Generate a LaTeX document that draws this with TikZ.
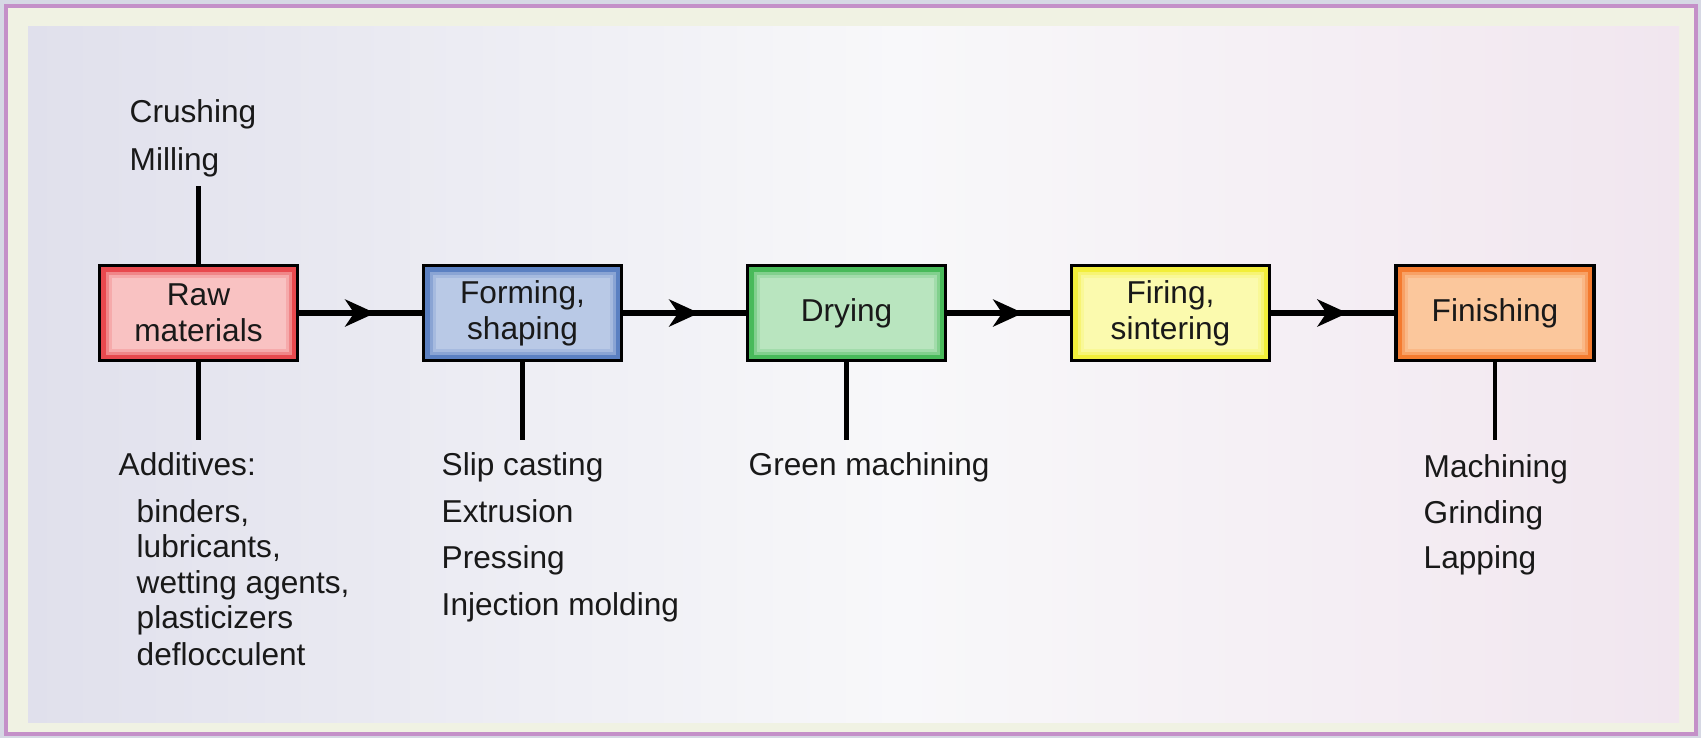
\documentclass[tikz,border=0pt]{standalone}
\usepackage{fontspec}
\setmainfont{Liberation Sans}
\usepackage{tikz}
\usetikzlibrary{positioning,arrows.meta,decorations.markings}
\usepackage{xcolor}
\definecolor{bgout}{HTML}{D6D8E4}
\definecolor{glowband}{HTML}{F0F2E3}
\definecolor{framepurple}{HTML}{C490C8}
\definecolor{bgleft}{HTML}{E0E0EC}
\definecolor{bgmid}{HTML}{F8F8FA}
\definecolor{bgright}{HTML}{F1E6EF}
\definecolor{rawout}{HTML}{E8494E}
\definecolor{rawlight}{HTML}{F9C2C2}
\definecolor{formout}{HTML}{5B80C2}
\definecolor{formlight}{HTML}{B9C9E6}
\definecolor{dryout}{HTML}{48BA5A}
\definecolor{drylight}{HTML}{B9E5BF}
\definecolor{fireout}{HTML}{F2EE3A}
\definecolor{firelight}{HTML}{FBFAAE}
\definecolor{finout}{HTML}{F47B2F}
\definecolor{finlight}{HTML}{FBC79C}

\begin{document}
\begin{tikzpicture}[
  stage/.style 2 args={rectangle, draw=black, line width=1.1pt, minimum width=1.98cm, minimum height=0.95cm,
    align=center, font=\fontsize{9}{10.2}\selectfont, text=black!90, fill=#1,
    path picture={
      \fill[#2!50!#1] ([shift={(0.06,0.06)}]path picture bounding box.south west) rectangle ([shift={(-0.06,-0.06)}]path picture bounding box.north east);
      \fill[#2!80!#1] ([shift={(0.09,0.09)}]path picture bounding box.south west) rectangle ([shift={(-0.09,-0.09)}]path picture bounding box.north east);
      \fill[#2] ([shift={(0.12,0.12)}]path picture bounding box.south west) rectangle ([shift={(-0.12,-0.12)}]path picture bounding box.north east);}},
  item/.style={anchor=base west, inner sep=0pt, font=\fontsize{9}{10.8}\selectfont, text=black!90},
  flow/.style={line width=1.5pt, postaction={decorate},
    decoration={markings, mark=at position 0.62 with {\arrow{Stealth[length=0.3cm, width=0.27cm, inset=0.09cm]}}}},
  tick/.style={line width=1.2pt}
]
% background and frame
\fill[bgout] (0,0) rectangle (17.01,-7.38);
\fill[glowband] (0.07,-0.07) rectangle (16.95,-7.33);
\shade[left color=bgleft, right color=bgmid] (0.28,-0.26) rectangle (9.0,-7.22);
\shade[left color=bgmid, right color=bgright] (9.0,-0.26) rectangle (16.79,-7.22);
\draw[framepurple, line width=0.9pt] (0.06,-0.06) rectangle (16.96,-7.34);

% process steps
\node[stage={rawout}{rawlight}] (raw) at (1.985,-3.13) {Raw\\materials};
\node[stage={formout}{formlight}] (form) at (5.225,-3.13) {Forming,\\shaping};
\node[stage={dryout}{drylight}] (dry) at (8.465,-3.13) {Drying};
\node[stage={fireout}{firelight}] (fire) at (11.705,-3.13) {Firing,\\sintering};
\node[stage={finout}{finlight}] (finish) at (14.95,-3.13) {Finishing};

\draw[flow] (raw) -- (form);
\draw[flow] (form) -- (dry);
\draw[flow] (dry) -- (fire);
\draw[flow] (fire) -- (finish);

% side operations
\coordinate (rawtop) at (1.985,-1.86);
\coordinate (rawend) at (1.985,-4.40);
\coordinate (formend) at (5.225,-4.40);
\coordinate (dryend) at (8.465,-4.40);
\coordinate (finend) at (14.95,-4.40);
\draw[tick] (rawtop) -- (raw);
\draw[tick] (raw) -- (rawend);
\draw[tick] (form) -- (formend);
\draw[tick] (dry) -- (dryend);
\draw[tick] (finish) -- (finend);

\node[item] (crush) at (1.29,-1.22) {Crushing};
\node[item] (mill) at (1.29,-1.70) {Milling};

\node[item] (addit) at (1.18,-4.75) {Additives:};
\node[item] (binder) at (1.36,-5.22) {binders,};
\node[item] (lubric) at (1.36,-5.57) {lubricants,};
\node[item] (wetting) at (1.36,-5.93) {wetting agents,};
\node[item] (plastic) at (1.36,-6.28) {plasticizers};
\node[item] (defloc) at (1.36,-6.65) {deflocculent};

\node[item] (slip) at (4.41,-4.75) {Slip casting};
\node[item] (extrude) at (4.41,-5.22) {Extrusion};
\node[item] (press) at (4.41,-5.68) {Pressing};
\node[item] (inject) at (4.41,-6.15) {Injection molding};

\node[item] (green) at (7.48,-4.75) {Green machining};

\node[item] (machine) at (14.23,-4.77) {Machining};
\node[item] (grind) at (14.23,-5.23) {Grinding};
\node[item] (lap) at (14.23,-5.68) {Lapping};
\end{tikzpicture}
\end{document}
